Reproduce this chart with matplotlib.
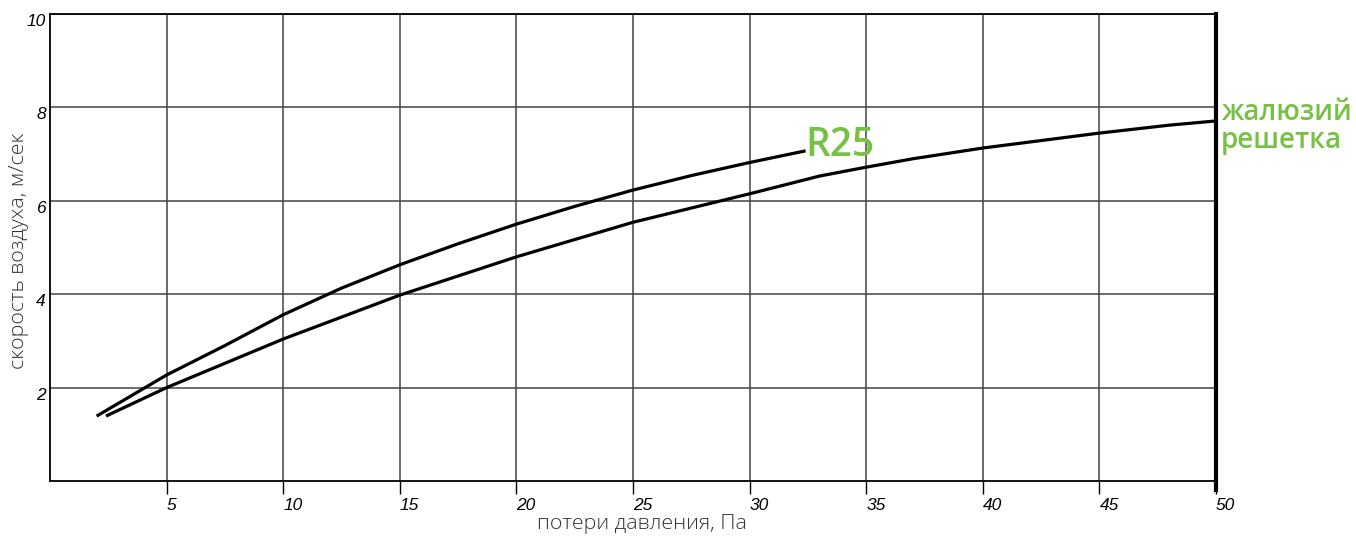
# Скорость воздуха vs потери давления: R25 и жалюзийная решетка
import matplotlib.pyplot as plt
import numpy as np

# кривая R25
r25_dp = [2.0, 5.0, 7.5, 10.0, 12.5, 15.0, 17.5, 20.0, 22.5, 25.0, 27.5, 30.0, 32.4]
r25_v = [1.39, 2.27, 2.90, 3.56, 4.13, 4.63, 5.08, 5.50, 5.88, 6.23, 6.54, 6.82, 7.07]

# кривая жалюзийной решетки
grille_dp = [2.4, 5.0, 10.0, 15.0, 20.0, 25.0, 30.0, 33.0, 35.0, 37.0, 40.0, 45.0, 48.0, 50.0]
grille_v = [1.39, 2.00, 3.04, 3.98, 4.80, 5.54, 6.15, 6.53, 6.72, 6.90, 7.13, 7.45, 7.62, 7.71]

xticks = [5, 10, 15, 20, 25, 30, 35, 40, 45, 50]
yticks = [2, 4, 6, 8, 10]

green = '#76c043'

fig = plt.figure(figsize=(13.56, 5.36), dpi=100)
ax = fig.add_axes([50/1356, 1-481/536, 1166/1356, 467/536])

ax.plot(r25_dp, r25_v, color='black', lw=2.3, solid_capstyle='butt')
ax.plot(grille_dp, grille_v, color='black', lw=2.3, solid_capstyle='butt')

ax.set_xlim(0, 50)
ax.set_ylim(0, 10)
ax.set_xticks(xticks)
ax.set_yticks(yticks)
ax.set_xticklabels([str(t) for t in xticks], fontstyle='italic',
                   family='Liberation Sans', fontsize=12.5, ha='left')
ax.set_yticklabels([str(t) for t in yticks], fontstyle='italic',
                   family='Liberation Sans', fontsize=12.5, va='top')
ax.tick_params(axis='x', length=9, width=1, color='black', pad=3)
ax.tick_params(axis='y', length=0, pad=3)

ax.grid(True, color='#444444', lw=1.1)
for s in ['left', 'bottom', 'top']:
    ax.spines[s].set_linewidth(1.3)
ax.spines['right'].set_visible(False)
ax.axvline(50, ymin=-0.02, ymax=1, color='black', lw=3, clip_on=False)

ax.set_xlabel('потери давления, Па', family='Open Sans', fontweight='light',
              fontsize=15.4, color='#333333')
ax.xaxis.set_label_coords(0.508, -0.071)
ax.set_ylabel('скорость воздуха, м/сек', family='Open Sans', fontweight='light',
              fontsize=15.4, color='#333333')
ax.yaxis.set_label_coords(-0.018, 0.4925)

ax.text(r25_dp[-1], r25_v[-1] + 0.11, 'R25', color=green, fontsize=28,
        family='Open Sans', fontweight='semibold', va='center', ha='left')
ax.text(50.2, 7.6, 'жалюзий\nрешетка', color=green, fontsize=20,
        family='Open Sans', fontweight='semibold', va='center', ha='left',
        linespacing=0.95, clip_on=False)

fig.savefig('out.png', dpi=100)
